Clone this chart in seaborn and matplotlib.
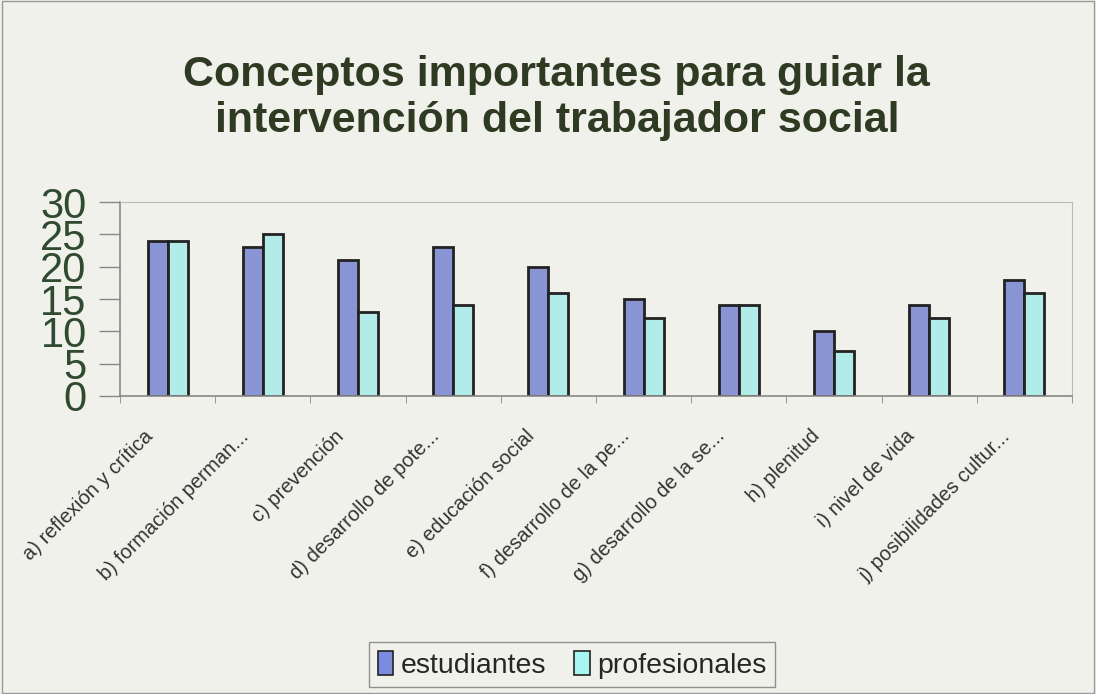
import numpy as np
import pandas as pd
import matplotlib.pyplot as plt
import matplotlib.transforms as mtransforms
import seaborn as sns
from matplotlib.patches import Patch, Rectangle

categorias = ['a) reflexión y crítica', 'b) formación perman...', 'c) prevención',
              'd) desarrollo de pote...', 'e) educación social', 'f) desarrollo de la pe...',
              'g) desarrollo de la se...', 'h) plenitud', 'i) nivel de vida',
              'j) posibilidades cultur...']
estudiantes = [24, 23, 21, 23, 20, 15, 14, 10, 14, 18]
profesionales = [24, 25, 13, 14, 16, 12, 14, 7, 12, 16]
series = ['estudiantes', 'profesionales']
colores = ['#7b8be0', '#a8f6f2']

df = pd.DataFrame({'categoria': categorias * 2,
                   'grupo': ['estudiantes'] * len(categorias) + ['profesionales'] * len(categorias),
                   'valor': estudiantes + profesionales})

sns.set_style('white')
plt.rcParams['font.family'] = ['Liberation Sans', 'DejaVu Sans']

bg = '#f1f1ec'
fig = plt.figure(figsize=(10.96, 6.94), dpi=100, facecolor=bg)
ax = fig.add_axes([0.1095, 0.4294, 0.8686, 0.2795])
ax.set_facecolor(bg)

sns.barplot(data=df, x='categoria', y='valor', hue='grupo', order=categorias,
            hue_order=series, palette=colores, width=0.42, gap=0,
            edgecolor='#222222', linewidth=2, legend=False, ax=ax)

ax.set_ylim(0, 30)
ax.set_xlim(-0.5, len(categorias) - 0.5)
ax.set_yticks(range(0, 31, 5))
ax.set_yticklabels([str(v) for v in range(0, 31, 5)], fontsize=30, color='#2f4a2f')
ax.tick_params(axis='y', length=15, width=1, color='#888888', pad=9, direction='out', left=True)
ax.set_xticks(range(len(categorias)))
ax.set_xticklabels(categorias, rotation=45, ha='right', rotation_mode='anchor',
                   fontsize=14.5, color='#333333')
ax.tick_params(axis='x', length=0, pad=22)
# Excel-style labels sit a little left of the category centre
shift = mtransforms.ScaledTranslation(-24 / 100, 0, fig.dpi_scale_trans)
for lbl in ax.get_xticklabels():
    lbl.set_transform(lbl.get_transform() + shift)
ax.set_xticks(np.arange(-0.5, len(categorias), 1.0), minor=True)
ax.tick_params(axis='x', which='minor', length=5, color='#888888', bottom=True)
ax.set_xlabel('')
ax.set_ylabel('')

for s in ['top', 'right']:
    ax.spines[s].set_color('#bbbbbb')
    ax.spines[s].set_linewidth(0.8)
for s in ['left', 'bottom']:
    ax.spines[s].set_color('#888888')
    ax.spines[s].set_linewidth(1.2)

fig.text(0.508, 0.859, 'Conceptos importantes para guiar la\nintervención del trabajador social',
         ha='center', va='center', fontsize=31, fontweight='bold', color='#2f3a22',
         linespacing=1.2)

handles = [Patch(facecolor=c, edgecolor='#222222', linewidth=1.2) for c in colores]
fig.legend(handles, series, loc='center', bbox_to_anchor=(0.522, 0.042),
           ncol=2, fontsize=20.5, frameon=True, edgecolor='#777777', fancybox=False,
           facecolor=bg, handlelength=0.55, handleheight=0.9, handletextpad=0.25,
           columnspacing=1.0, borderpad=0.3)

fig.add_artist(Rectangle((0.002, 0.002), 0.996, 0.996, transform=fig.transFigure,
                         fill=False, edgecolor='#999999', linewidth=1))

fig.savefig('out.png', dpi=100, facecolor=bg)
